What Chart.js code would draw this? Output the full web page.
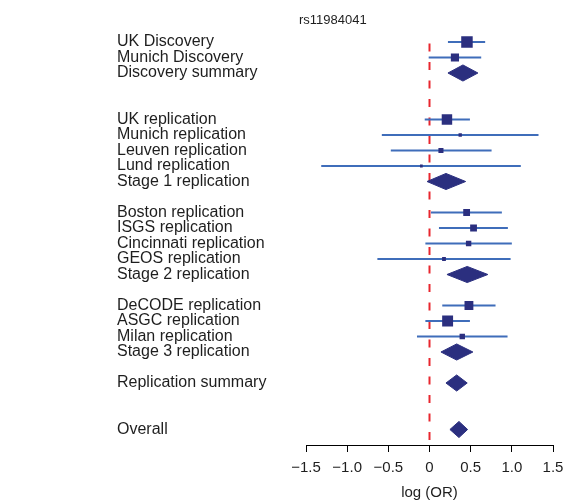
<!DOCTYPE html>
<html>
<head>
<meta charset="utf-8">
<script src="https://cdn.jsdelivr.net/npm/chart.js@4.4.1/dist/chart.umd.min.js"></script>
<style>
html,body{margin:0;padding:0;background:#fff;}
#wrap{width:564px;height:500px;position:relative;}
</style>
</head>
<body>
<div id="wrap"><canvas id="c" width="564" height="500"></canvas></div>
<script>
// ---- data ----
const chartTitle = 'rs11984041';
const rowLabels = [
  'UK Discovery', 'Munich Discovery', 'Discovery summary', '', '',
  'UK replication', 'Munich replication', 'Leuven replication', 'Lund replication', 'Stage 1 replication', '',
  'Boston replication', 'ISGS replication', 'Cincinnati replication', 'GEOS replication', 'Stage 2 replication', '',
  'DeCODE replication', 'ASGC replication', 'Milan replication', 'Stage 3 replication', '',
  'Replication summary', '', '',
  'Overall'
];
const estimate = [
  0.455, 0.309, 0.406, null, null,
  0.212, 0.373, 0.139, -0.099, 0.200, null,
  0.451, 0.535, 0.475, 0.176, 0.458, null,
  0.479, 0.220, 0.398, 0.330, null,
  0.330, null, null,
  0.358
];
const lower = [
  0.224, -0.010, 0.224, null, null,
  -0.058, -0.579, -0.470, -1.315, -0.030, null,
  0.018, 0.115, -0.050, -0.633, 0.212, null,
  0.155, -0.050, -0.152, 0.139, null,
  0.200, null, null,
  0.248
];
const upper = [
  0.676, 0.628, 0.588, null, null,
  0.491, 1.324, 0.754, 1.109, 0.439, null,
  0.879, 0.952, 1.000, 0.985, 0.709, null,
  0.802, 0.491, 0.948, 0.527, null,
  0.458, null, null,
  0.463
];
// relative study weight (box size); null = summary (diamond)
const weight = [
  1.00, 0.71, null, null, null,
  0.91, 0.29, 0.44, 0.24, null, null,
  0.59, 0.59, 0.47, 0.33, null, null,
  0.77, 0.95, 0.47, null, null,
  null, null, null,
  null
];
const xTickValues = [-1.5, -1.0, -0.5, 0, 0.5, 1.0, 1.5];
const xTickLabels = ['\u22121.5', '\u22121.0', '\u22120.5', '0', '0.5', '1.0', '1.5'];
const xAxisTitle = 'log (OR)';

// ---- styles ----
const NAVY = '#2b2f7f';
const BLUE = '#3f6dba';
const RED = '#e8262e';
const TEXT = '#1e1e1e';
const BOX_MAX = 11.5;      // px side of the largest box
const DIAMOND_HALF = 0.52; // rows
const FONT = "'Liberation Sans', Arial, Helvetica, sans-serif";
Chart.defaults.font.family = FONT;

const datasets = [];
const isStudy = i => estimate[i] !== null && weight[i] !== null;
const isSummary = i => estimate[i] !== null && weight[i] === null;

// boxes
const boxIdx = rowLabels.map((_, i) => i).filter(isStudy);
datasets.push({
  type: 'scatter', order: 1,
  data: boxIdx.map(i => ({x: estimate[i], y: i})),
  pointStyle: 'rect',
  pointRadius: boxIdx.map(i => weight[i] * BOX_MAX / Math.SQRT2),
  pointBackgroundColor: NAVY, pointBorderWidth: 0, pointBorderColor: NAVY
});
// diamonds
rowLabels.forEach((_, i) => {
  if (!isSummary(i)) return;
  datasets.push({
    type: 'scatter', order: 1, showLine: true, fill: 'shape',
    data: [
      {x: lower[i], y: i}, {x: estimate[i], y: i - DIAMOND_HALF},
      {x: upper[i], y: i}, {x: estimate[i], y: i + DIAMOND_HALF},
      {x: lower[i], y: i}
    ],
    borderColor: NAVY, backgroundColor: NAVY, borderWidth: 1,
    pointRadius: 0, tension: 0
  });
});
// CI lines
boxIdx.forEach(i => {
  datasets.push({
    type: 'scatter', order: 2, showLine: true,
    data: [{x: lower[i], y: i}, {x: upper[i], y: i}],
    borderColor: BLUE, borderWidth: 2, pointRadius: 0
  });
});
// null reference line
datasets.push({
  type: 'scatter', order: 3, showLine: true,
  data: [{x: 0, y: 0.1}, {x: 0, y: rowLabels.length}],
  borderColor: RED, borderWidth: 2, borderDash: [8, 10.5], pointRadius: 0
});

const titlePlugin = {
  id: 'topTitle',
  afterDraw(chart) {
    const ctx = chart.ctx;
    ctx.save();
    ctx.font = '13px ' + FONT;
    ctx.fillStyle = TEXT;
    ctx.textAlign = 'left';
    ctx.textBaseline = 'middle';
    ctx.fillText(chartTitle, chart.chartArea.left - 7, 20);
    ctx.restore();
  }
};

new Chart(document.getElementById('c'), {
  type: 'scatter',
  data: {datasets},
  plugins: [titlePlugin],
  options: {
    responsive: false,
    animation: false,
    events: [],
    layout: {padding: {left: 117, right: 11, top: 18.75, bottom: 0}},
    plugins: {legend: {display: false}, tooltip: {enabled: false}, title: {display: false}},
    scales: {
      x: {
        type: 'linear', min: -1.5, max: 1.5,
        afterBuildTicks: s => { s.ticks = xTickValues.map(v => ({value: v})); },
        afterFit: s => { s.height = 55; s.paddingLeft = 0; s.paddingRight = 0; },
        ticks: {
          autoSkip: false, maxRotation: 0, padding: 7, color: TEXT,
          font: {size: 15},
          callback: v => xTickLabels[xTickValues.indexOf(v)]
        },
        grid: {drawOnChartArea: false, drawTicks: true, tickLength: 7, color: '#000', lineWidth: 1},
        border: {display: true, color: '#000', width: 1},
        title: {display: true, text: xAxisTitle, color: TEXT, font: {size: 15}, padding: {top: 0, bottom: -1.5}}
      },
      y: {
        type: 'linear', reverse: true, min: -1.5, max: rowLabels.length,
        afterBuildTicks: s => { s.ticks = rowLabels.map((l, i) => ({value: i})).filter(t => rowLabels[t.value]); },
        afterFit: s => { s.width = 189; s.paddingTop = 0; s.paddingBottom = 0; },
        ticks: {
          autoSkip: false, crossAlign: 'far', color: TEXT, font: {size: 16},
          callback: v => rowLabels[v]
        },
        grid: {display: false},
        border: {display: false}
      }
    }
  }
});
</script>
</body>
</html>
